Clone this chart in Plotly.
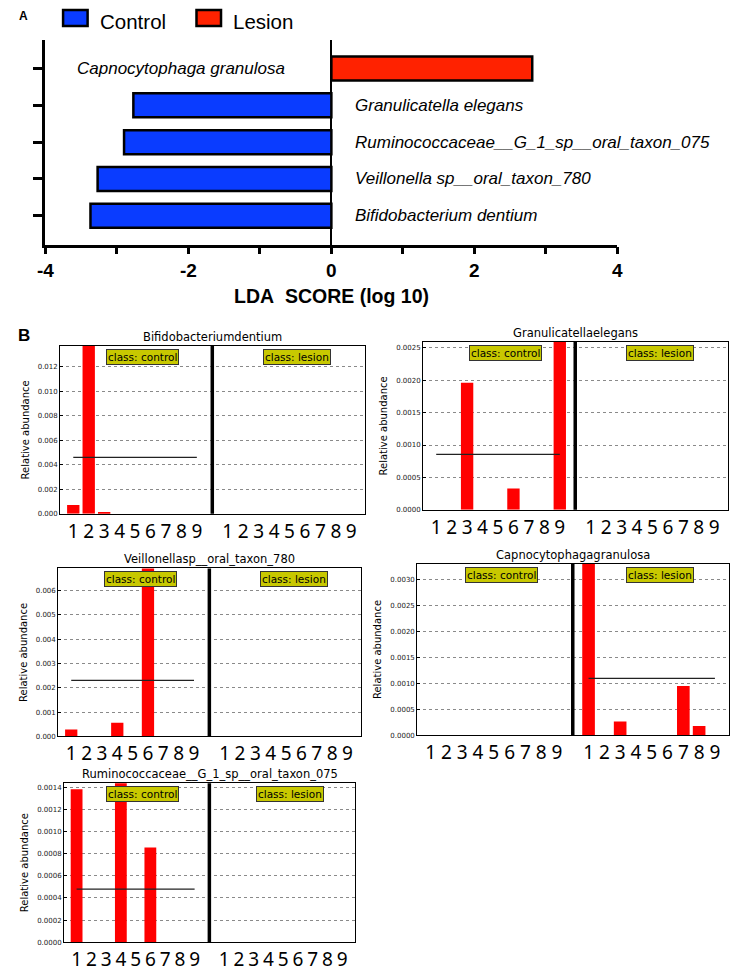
import plotly.graph_objects as go

# the page has an 8px body margin, so the figure is 8px smaller than the window
OFF = 8
W, H = 742 - OFF, 972 - OFF


def px(x):
    return (x - OFF) / W


def py(y):
    return 1 - (y - OFF) / H


# ---- panel A: LDA scores ----
lda_taxa = [
    "Capnocytophaga granulosa",
    "Granulicatella elegans",
    "Ruminococcaceae__G_1_sp__oral_taxon_075",
    "Veillonella sp__oral_taxon_780",
    "Bifidobacterium dentium",
]
lda_class = ["Lesion", "Control", "Control", "Control", "Control"]
lda_score = [2.81, -2.77, -2.90, -3.27, -3.37]
lda_ticks = [-4, -3, -2, -1, 0, 1, 2, 3, 4]
lda_ticktext = ["-4", "", "-2", "", "0", "", "2", "", "4"]

# ---- panel B: relative abundance per sample ----
sample_ids = [1, 2, 3, 4, 5, 6, 7, 8, 9]
b_titles = [
    "Bifidobacteriumdentium",
    "Granulicatellaelegans",
    "Veillonellasp__oral_taxon_780",
    "Capnocytophagagranulosa",
    "Ruminococcaceae__G_1_sp__oral_taxon_075",
]
bifido_control = [0.00073, 0.0406, 0.00008, 0, 0, 0, 0, 0, 0]
bifido_lesion = [0, 0, 0, 0, 0, 0, 0, 0, 0]
granu_control = [0, 0, 0.00196, 0, 0, 0.00033, 0, 0, 0.00542]
granu_lesion = [0, 0, 0, 0, 0, 0, 0, 0, 0]
veill_control = [0.00029, 0, 0, 0.00056, 0, 0.0199, 0, 0, 0]
veill_lesion = [0, 0, 0, 0, 0, 0, 0, 0, 0]
capno_control = [0, 0, 0, 0, 0, 0, 0, 0, 0]
capno_lesion = [0.0085, 0, 0.00027, 0, 0, 0, 0.00095, 0.00018, 0]
rumino_control = [0.001385, 0, 0, 0.00208, 0, 0.000858, 0, 0, 0]
rumino_lesion = [0, 0, 0, 0, 0, 0, 0, 0, 0]
b_control = [bifido_control, granu_control, veill_control, capno_control, rumino_control]
b_lesion = [bifido_lesion, granu_lesion, veill_lesion, capno_lesion, rumino_lesion]
b_mean_control = [0.0046, 0.000857, 0.0023, 0.0, 0.00048]
b_mean_lesion = [0.0, 0.0, 0.0, 0.0011, 0.0]

# axis settings per small plot
b_ymax = [0.0137, 0.00259, 0.0069, 0.00331, 0.00144]
b_dtick = [0.002, 0.0005, 0.001, 0.0005, 0.0002]
b_fmt = [".3f", ".4f", ".3f", ".4f", ".4f"]
# frame boxes in window pixels: x0, x1, y0(top), y1(bottom)
b_boxes = [
    (53, 364, 348, 517),
    (423, 734, 344, 513),
    (51, 360, 572, 741),
    (417, 735, 567, 740),
    (57, 354, 788, 948),
]

BLUE = "#0a3cff"
RED = "#ff2200"
ARIAL = "Liberation Sans"
MPL = "DejaVu Sans"

fig = go.Figure()

ctrl_idx = [i for i, c in enumerate(lda_class) if c == "Control"]
les_idx = [i for i, c in enumerate(lda_class) if c == "Lesion"]
for idx, color, name in [(ctrl_idx, BLUE, "Control"), (les_idx, RED, "Lesion")]:
    fig.add_trace(go.Bar(
        x=[lda_score[i] for i in idx],
        y=[lda_taxa[i] for i in idx],
        orientation="h",
        width=0.65,
        marker=dict(color=color, line=dict(color="black", width=2.5)),
        name=name,
        showlegend=False,
        xaxis="x", yaxis="y",
    ))

annotations = []
for taxon, score in zip(lda_taxa, lda_score):
    annotations.append(dict(
        x=0, y=taxon, xref="x", yref="y",
        text="<i>" + taxon + "</i>",
        showarrow=False,
        xanchor="right" if score > 0 else "left",
        yanchor="middle",
        xshift=-44 if score > 0 else 22,
        font=dict(family=ARIAL, size=17, color="black"),
    ))

layout = dict(
    width=W, height=H,
    margin=dict(l=0, r=0, t=0, b=0),
    paper_bgcolor="white",
    plot_bgcolor="white",
    barmode="overlay",
    showlegend=False,
    xaxis=dict(
        domain=[px(38), px(621)],
        anchor="y",
        range=[-4, 4],
        tickvals=lda_ticks,
        ticktext=["<b>" + t + "</b>" for t in lda_ticktext],
        ticks="outside", ticklen=7, tickwidth=2.5, tickcolor="black",
        showline=True, linecolor="black", linewidth=2.5,
        zeroline=True, zerolinecolor="black", zerolinewidth=1.5,
        showgrid=False,
        tickfont=dict(family=ARIAL, size=19, color="black"),
    ),
    yaxis=dict(
        domain=[py(246), py(40)],
        anchor="x",
        type="category",
        categoryorder="array", categoryarray=lda_taxa,
        range=[4.78, -0.78],
        showticklabels=False,
        ticks="outside", ticklen=10, tickwidth=2.5, tickcolor="black",
        showline=True, linecolor="black", linewidth=2.5,
        showgrid=False,
    ),
)

annotations.append(dict(
    x=px(330), y=py(298), xref="paper", yref="paper",
    text="<b>LDA\u00a0 SCORE (log 10)</b>", showarrow=False,
    xanchor="center", yanchor="middle",
    font=dict(family=ARIAL, size=19.5, color="black"),
))
annotations.append(dict(
    x=px(9), y=py(16), xref="paper", yref="paper", text="<b>A</b>",
    showarrow=False, xanchor="left", yanchor="middle",
    font=dict(family=ARIAL, size=12, color="black"),
))
annotations.append(dict(
    x=px(8), y=py(338), xref="paper", yref="paper", text="<b>B</b>",
    showarrow=False, xanchor="left", yanchor="middle",
    font=dict(family=ARIAL, size=17, color="black"),
))

shapes = []
# legend
for (x0, x1), color, label, tx in [((56, 81), BLUE, "Control", 92), ((192, 217), RED, "Lesion", 227)]:
    shapes.append(dict(type="rect", xref="paper", yref="paper",
                       x0=px(x0), x1=px(x1), y0=py(26), y1=py(10),
                       fillcolor=color, line=dict(color="black", width=2.5)))
    annotations.append(dict(x=px(tx), y=1, xref="paper", yref="paper",
                            text=label, showarrow=False, xanchor="left", yanchor="top",
                            font=dict(family=ARIAL, size=20.5, color="black")))

ctrl_x = [s - 1 for s in sample_ids]
les_x = [s + 9 for s in sample_ids]
sep_x = 9
tickvals = ctrl_x + les_x
ticktext = [str(s) for s in sample_ids] * 2

for i in range(5):
    k = i + 2
    xr, yr = f"x{k}", f"y{k}"
    x0, x1, y0, y1 = b_boxes[i]
    fig.add_trace(go.Bar(
        x=ctrl_x + les_x,
        y=b_control[i] + b_lesion[i],
        width=0.8,
        marker=dict(color="#ff0000", line=dict(width=0)),
        xaxis=xr, yaxis=yr, showlegend=False,
    ))
    for xs, m in [(ctrl_x, b_mean_control[i]), (les_x, b_mean_lesion[i])]:
        if m > 0:
            fig.add_trace(go.Scatter(
                x=[xs[0], xs[-1]], y=[m, m], mode="lines",
                line=dict(color="#222222", width=1.3),
                xaxis=xr, yaxis=yr, showlegend=False,
            ))
    layout[f"xaxis{k}"] = dict(
        domain=[px(x0), px(x1)], anchor=yr,
        range=[-0.85, 18.9],
        tickvals=tickvals, ticktext=ticktext,
        ticks="", showgrid=False, zeroline=False,
        showline=True, mirror=True, linecolor="black", linewidth=1,
        tickfont=dict(family="Noto Sans", size=19, color="black"),
    )
    layout[f"yaxis{k}"] = dict(
        domain=[py(y1), py(y0)], anchor=xr,
        range=[0, b_ymax[i]],
        tick0=0, dtick=b_dtick[i], tickformat=b_fmt[i],
        ticks="inside", ticklen=3, tickcolor="black",
        showgrid=True, gridcolor="#8a8a8a", griddash="dot", gridwidth=1,
        zeroline=False,
        showline=True, mirror=True, linecolor="black", linewidth=1,
        tickfont=dict(family=MPL, size=7, color="#222222"),
        title=dict(text="Relative abundance", standoff=6,
                   font=dict(family=MPL, size=10, color="black")),
    )
    shapes.append(dict(type="line", xref=xr, yref=f"{yr} domain",
                       x0=sep_x, x1=sep_x, y0=0, y1=1,
                       line=dict(color="black", width=3.5)))
    annotations.append(dict(
        x=0.5, y=1, xref=f"{xr} domain", yref=f"{yr} domain",
        text=b_titles[i], showarrow=False, xanchor="center", yanchor="bottom", yshift=0,
        font=dict(family=MPL, size=11.5, color="black"),
    ))
    for cx, label in [(4.5, "class: control"), (14.5, "class: lesion")]:
        annotations.append(dict(
            x=cx, y=1, xref=xr, yref=f"{yr} domain",
            text=label, showarrow=False, xanchor="center", yanchor="top", yshift=-3,
            bgcolor="#c8c800", bordercolor="#333333", borderwidth=1, borderpad=1,
            font=dict(family=MPL, size=10.5, color="black"),
        ))

layout["annotations"] = annotations
layout["shapes"] = shapes
fig.update_layout(**layout)

fig.write_html("out.html")
